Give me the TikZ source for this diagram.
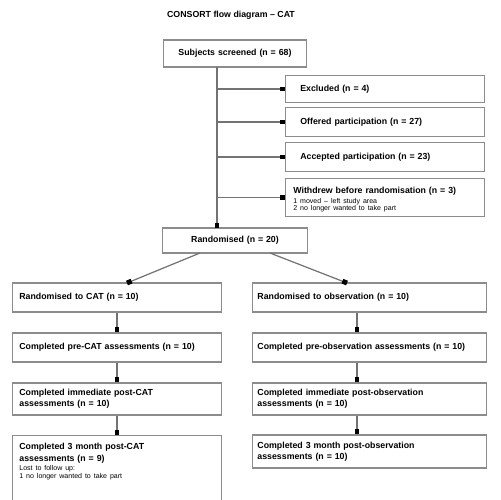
\documentclass[tikz,border=0pt]{standalone}
\usepackage{fontspec}
\setmainfont{Liberation Sans}
\usetikzlibrary{arrows.meta}
\newdimen\px \px=0.56693pt
\newcommand\subtx{\fontsize{4}{5}\selectfont\mdseries}
\begin{document}
\begin{tikzpicture}[x=0.02cm,y=-0.02cm,
  box/.style={draw=black!45,line width=0.8pt,fill=white,inner sep=0pt,font=\fontsize{5}{6.5}\selectfont\bfseries,align=left},
  arr/.style={draw=black!55,line width=0.7pt,-{Square[length=2.8pt,width=2.8pt,black]}}]
\useasboundingbox (0,0) rectangle (500,500);
\node[font=\fontsize{5}{6}\selectfont\bfseries] (title) at (231,15) {CONSORT flow diagram -- CAT};
\node[box,minimum width=144\px,text width=120\px,minimum height=27\px,align=center] (s) at (235,53.5) {Subjects screened (n = 68)};
\node[box,minimum height=27\px,text width=170\px,inner xsep=15\px] (e1) at (385,89) {Excluded (n = 4)};
\node[box,minimum height=29\px,text width=170\px,inner xsep=15\px] (e2) at (385,122) {Offered participation (n = 27)};
\node[box,minimum height=29\px,text width=170\px,inner xsep=15\px] (e3) at (385,157) {Accepted participation (n = 23)};
\node[box,minimum height=38\px,text width=184\px,inner xsep=8\px,anchor=north] (e4) at (385,178) {\rule{0pt}{6pt}Withdrew before randomisation (n = 3)\\[-1pt]
{\subtx 1 moved -- left study area}\\[-2pt]{\subtx 2 no longer wanted to take part}};
\node[box,minimum width=146\px,text width=130\px,minimum height=25\px,align=center] (r) at (235,240.5) {Randomised (n = 20)};
\node[box,minimum height=29\px,text width=196\px,inner xsep=7\px] (L1) at (117,297.5) {Randomised to CAT (n = 10)};
\node[box,minimum height=29\px,text width=225\px,inner xsep=5\px] (R1) at (369.5,297.5) {Randomised to observation (n = 10)};
\node[box,minimum height=29\px,text width=196\px,inner xsep=7\px] (L2) at (117,347.5) {Completed pre-CAT assessments (n = 10)};
\node[box,minimum height=29\px,text width=225\px,inner xsep=5\px] (R2) at (369.5,347.5) {Completed pre-observation assessments (n = 10)};
\node[box,minimum height=32\px,text width=196\px,inner xsep=7\px] (L3) at (117,399) {Completed immediate post-CAT\\assessments (n = 10)};
\node[box,minimum height=32\px,text width=225\px,inner xsep=5\px] (R3) at (369.5,399) {Completed immediate post-observation\\assessments (n = 10)};
\node[box,text width=196\px,inner xsep=7\px,inner ysep=0pt,anchor=north] (L4) at (117,435) {\rule{0pt}{8pt}Completed 3 month post-CAT\\assessments (n = 9)\\[-1pt]
{\subtx Lost to follow up:}\\[-2pt]{\subtx 1 no longer wanted to take part}\\\rule{0pt}{20pt}};
\node[box,minimum height=33\px,text width=225\px,inner xsep=5\px] (R4) at (369.5,451.5) {Completed 3 month post-observation\\assessments (n = 10)};
% trunk
\coordinate (t0) at (217,67);
\coordinate (t1) at (217,228);
\draw[arr] (t0) -- (t1);
\draw[arr] (t0 |- e1.west) -- (e1.west);
\draw[arr] (t0 |- e2.west) -- (e2.west);
\draw[arr] (t0 |- e3.west) -- (e3.west);
\draw[arr] (t0 |- e4.west) -- (e4.west);
% branches
\coordinate (rl) at (200,253);
\coordinate (rr) at (270,253);
\coordinate (l1t) at (127,283);
\coordinate (r1t) at (347,283);
\draw[arr] (rl) -- (l1t);
\draw[arr] (rr) -- (r1t);
\coordinate (lx) at (117,0);
\coordinate (rx) at (357,0);
\draw[arr] (lx |- L1.south) -- (lx |- L2.north);
\draw[arr] (lx |- L2.south) -- (lx |- L3.north);
\draw[arr] (lx |- L3.south) -- (lx |- L4.north);
\draw[arr] (rx |- R1.south) -- (rx |- R2.north);
\draw[arr] (rx |- R2.south) -- (rx |- R3.north);
\draw[arr] (rx |- R3.south) -- (rx |- R4.north);
\end{tikzpicture}
\end{document}
